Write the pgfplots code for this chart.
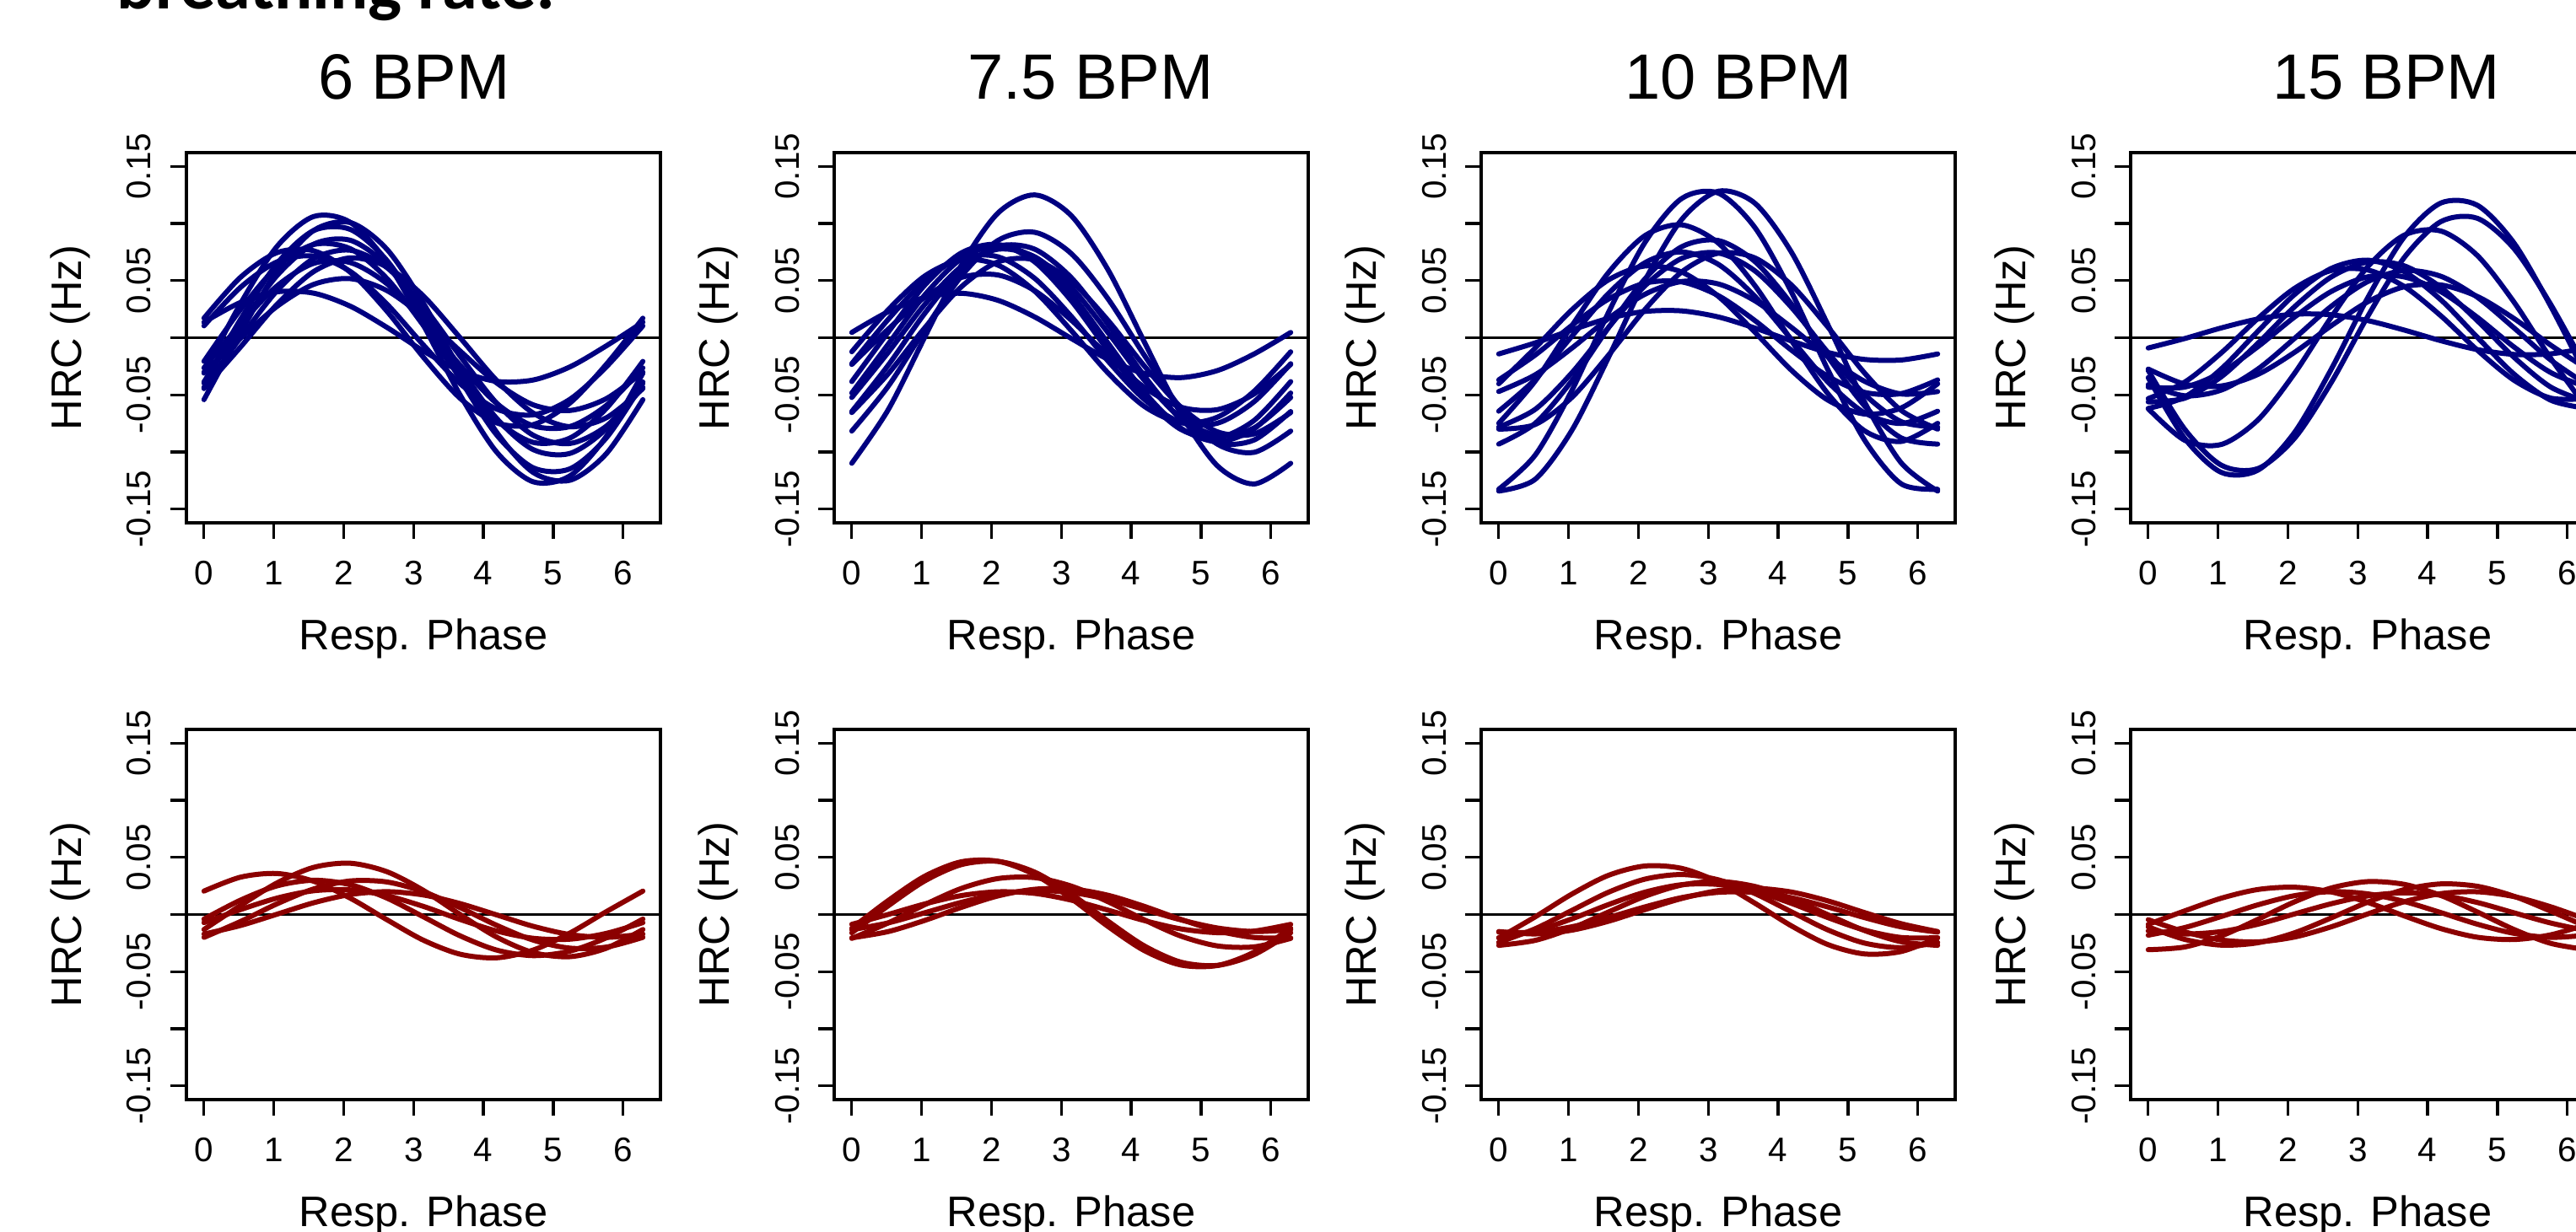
\documentclass[border=0pt]{standalone}
\usepackage{fontspec}
\setmainfont{Liberation Sans}
\newfontfamily\slidefont{Carlito}
\usepackage{pgfplots}
\usepackage{pgfplotstable}
\pgfplotsset{compat=1.18}

\definecolor{hrcblue}{RGB}{0,0,128}
\definecolor{hrcred}{RGB}{139,0,0}

% top row: one column per subject curve, x = respiratory phase
\pgfplotstableread{
x      c1      c2      c3      c4      c5      c6      c7      c8      c9      c10     c11     c12
0      -0.0310 -0.0542 -0.0398 -0.0207 -0.0434 -0.0264  0.0104 -0.0301  0.0136 -0.0445 -0.0387  0.0171
0.5236  0.0299  0.0045  0.0161  0.0247  0.0000  0.0119  0.0441 -0.0005  0.0309 -0.0081  0.0104  0.0529
1.0472  0.0800  0.0586  0.0650  0.0621  0.0412  0.0454  0.0664  0.0275  0.0402  0.0293  0.0545  0.0745
1.5708  0.1061  0.0939  0.0938  0.0816  0.0693  0.0651  0.0715  0.0467  0.0390  0.0579  0.0819  0.0761
2.0944  0.1010  0.1008  0.0948  0.0779  0.0766  0.0658  0.0580  0.0517  0.0276  0.0699  0.0853  0.0573
2.6180  0.0663  0.0775  0.0677  0.0519  0.0614  0.0473  0.0295  0.0413  0.0091  0.0621  0.0636  0.0233
3.1416  0.0110  0.0302  0.0198  0.0107  0.0274  0.0144 -0.0064  0.0181 -0.0116  0.0365  0.0227 -0.0171
3.6652 -0.0499 -0.0285 -0.0361 -0.0347 -0.0160 -0.0239 -0.0401 -0.0115 -0.0289  0.0001 -0.0264 -0.0529
4.1888 -0.1000 -0.0826 -0.0850 -0.0721 -0.0572 -0.0574 -0.0624 -0.0395 -0.0382 -0.0373 -0.0705 -0.0745
4.7124 -0.1261 -0.1179 -0.1138 -0.0916 -0.0853 -0.0771 -0.0675 -0.0587 -0.0370 -0.0659 -0.0979 -0.0761
5.2360 -0.1210 -0.1248 -0.1148 -0.0879 -0.0926 -0.0778 -0.0540 -0.0637 -0.0256 -0.0779 -0.1013 -0.0573
5.7596 -0.0863 -0.1015 -0.0877 -0.0619 -0.0774 -0.0593 -0.0255 -0.0533 -0.0071 -0.0701 -0.0796 -0.0233
6.2832 -0.0310 -0.0542 -0.0398 -0.0207 -0.0434 -0.0264  0.0104 -0.0301  0.0136 -0.0445 -0.0387  0.0171
}\topsix

\pgfplotstableread{
x      c1      c2      c3      c4      c5      c6      c7      c8      c9      c10     c11
0      -0.1099 -0.0817 -0.0384 -0.0523 -0.0646 -0.0227 -0.0655  0.0046 -0.0234 -0.0123 -0.0484
0.5236 -0.0628 -0.0423  0.0050 -0.0127 -0.0239  0.0162 -0.0314  0.0228  0.0076  0.0246 -0.0055
1.0472  0.0008  0.0074  0.0462  0.0293  0.0215  0.0500  0.0088  0.0353  0.0355  0.0541  0.0376
1.5708  0.0637  0.0541  0.0743  0.0623  0.0596  0.0701  0.0447  0.0389  0.0528  0.0684  0.0692
2.0944  0.1092  0.0852  0.0816  0.0775  0.0801  0.0708  0.0664  0.0327  0.0549  0.0635  0.0810
2.6180  0.1250  0.0923  0.0664  0.0709  0.0775  0.0520  0.0682  0.0182  0.0412  0.0408  0.0697
3.1416  0.1069  0.0737  0.0324  0.0443  0.0526  0.0187  0.0495 -0.0006  0.0154  0.0063  0.0384
3.6652  0.0598  0.0343 -0.0110  0.0047  0.0119 -0.0202  0.0154 -0.0188 -0.0156 -0.0306 -0.0045
4.1888 -0.0038 -0.0154 -0.0522 -0.0373 -0.0335 -0.0540 -0.0248 -0.0313 -0.0435 -0.0601 -0.0476
4.7124 -0.0667 -0.0621 -0.0803 -0.0703 -0.0716 -0.0741 -0.0607 -0.0349 -0.0608 -0.0744 -0.0792
5.2360 -0.1122 -0.0932 -0.0876 -0.0855 -0.0921 -0.0748 -0.0824 -0.0287 -0.0629 -0.0695 -0.0910
5.7596 -0.1280 -0.1003 -0.0724 -0.0789 -0.0895 -0.0560 -0.0842 -0.0142 -0.0492 -0.0468 -0.0797
6.2832 -0.1099 -0.0817 -0.0384 -0.0523 -0.0646 -0.0227 -0.0655  0.0046 -0.0234 -0.0123 -0.0484
}\topseven

\pgfplotstableread{
x      c1      c2      c3      c4      c5      c6      c7      c8      c9      c10     c11
0      -0.1326 -0.1342 -0.0749 -0.0643 -0.0782 -0.0800 -0.0471 -0.0369 -0.0142 -0.0403 -0.0931
0.5236 -0.1026 -0.1238 -0.0378 -0.0363 -0.0626 -0.0759 -0.0324 -0.0151 -0.0045 -0.0089 -0.0748
1.0472 -0.0461 -0.0810  0.0104  0.0013 -0.0307 -0.0522 -0.0091  0.0108  0.0068  0.0244 -0.0376
1.5708  0.0221 -0.0173  0.0570  0.0387  0.0089 -0.0153  0.0168  0.0338  0.0169  0.0506  0.0087
2.0944  0.0835  0.0502  0.0894  0.0657  0.0455  0.0248  0.0381  0.0478  0.0230  0.0628  0.0516
2.6180  0.1218  0.1034  0.0988  0.0751  0.0694  0.0575  0.0492  0.0489  0.0235  0.0575  0.0796
3.1416  0.1266  0.1282  0.0829  0.0643  0.0742  0.0740  0.0471  0.0369  0.0182  0.0363  0.0851
3.6652  0.0966  0.1178  0.0458  0.0363  0.0586  0.0699  0.0324  0.0151  0.0085  0.0049  0.0668
4.1888  0.0401  0.0750 -0.0024 -0.0013  0.0267  0.0462  0.0091 -0.0108 -0.0028 -0.0284  0.0296
4.7124 -0.0281  0.0113 -0.0490 -0.0387 -0.0129  0.0093 -0.0168 -0.0338 -0.0129 -0.0546 -0.0167
5.2360 -0.0895 -0.0562 -0.0814 -0.0657 -0.0495 -0.0308 -0.0381 -0.0478 -0.0190 -0.0668 -0.0596
5.7596 -0.1278 -0.1094 -0.0908 -0.0751 -0.0734 -0.0635 -0.0492 -0.0489 -0.0195 -0.0615 -0.0876
6.2832 -0.1326 -0.1342 -0.0749 -0.0643 -0.0782 -0.0800 -0.0471 -0.0369 -0.0142 -0.0403 -0.0931
}\topten

\pgfplotstableread{
x      c1      c2      c3      c4      c5      c6      c7      c8      c9      c10
0      -0.0349 -0.0286 -0.0621 -0.0619 -0.0562 -0.0411 -0.0433 -0.0274 -0.0090 -0.0533
0.5236 -0.0882 -0.0802 -0.0898 -0.0518 -0.0529 -0.0508 -0.0432 -0.0406 -0.0007 -0.0388
1.0472 -0.1179 -0.1116 -0.0934 -0.0272 -0.0341 -0.0458 -0.0303 -0.0422  0.0086 -0.0132
1.5708 -0.1159 -0.1145 -0.0719  0.0057 -0.0048 -0.0274 -0.0078 -0.0321  0.0164  0.0169
2.0944 -0.0829 -0.0880 -0.0312  0.0378  0.0271 -0.0006  0.0181 -0.0128  0.0206  0.0432
2.6180 -0.0278 -0.0394  0.0178  0.0606  0.0531  0.0274  0.0404  0.0104  0.0201  0.0588
3.1416  0.0349  0.0186  0.0621  0.0679  0.0662  0.0491  0.0533  0.0314  0.0150  0.0593
3.6652  0.0882  0.0702  0.0898  0.0578  0.0629  0.0588  0.0532  0.0446  0.0067  0.0448
4.1888  0.1179  0.1016  0.0934  0.0332  0.0441  0.0538  0.0403  0.0462 -0.0026  0.0192
4.7124  0.1159  0.1045  0.0719  0.0003  0.0148  0.0354  0.0178  0.0361 -0.0104 -0.0109
5.2360  0.0829  0.0780  0.0312 -0.0318 -0.0171  0.0086 -0.0081  0.0168 -0.0146 -0.0372
5.7596  0.0278  0.0294 -0.0178 -0.0546 -0.0431 -0.0194 -0.0304 -0.0064 -0.0141 -0.0528
6.2832 -0.0349 -0.0286 -0.0621 -0.0619 -0.0562 -0.0411 -0.0433 -0.0274 -0.0090 -0.0533
}\topfifteen

% bottom row
\pgfplotstableread{
x      c1      c2      c3      c4      c5      c6
0       0.0205 -0.0131 -0.0200 -0.0171 -0.0040 -0.0071
0.5236  0.0327  0.0079 -0.0061 -0.0096  0.0126  0.0043
1.0472  0.0359  0.0277  0.0094  0.0003  0.0251  0.0144
1.5708  0.0291  0.0413  0.0224  0.0103  0.0300  0.0208
2.0944  0.0143  0.0449  0.0294  0.0175  0.0261  0.0216
2.6180 -0.0045  0.0375  0.0285  0.0200  0.0144  0.0165
3.1416 -0.0225  0.0211  0.0200  0.0171 -0.0020  0.0071
3.6652 -0.0347  0.0001  0.0061  0.0096 -0.0186 -0.0043
4.1888 -0.0379 -0.0197 -0.0094 -0.0003 -0.0311 -0.0144
4.7124 -0.0311 -0.0333 -0.0224 -0.0103 -0.0360 -0.0208
5.2360 -0.0163 -0.0369 -0.0294 -0.0175 -0.0321 -0.0216
5.7596  0.0025 -0.0295 -0.0285 -0.0200 -0.0204 -0.0165
6.2832  0.0205 -0.0131 -0.0200 -0.0171 -0.0040 -0.0071
}\botsix

\pgfplotstableread{
x      c1      c2      c3      c4      c5      c6
0      -0.0120 -0.0160 -0.0209 -0.0133 -0.0086 -0.0204
0.5236  0.0123  0.0077 -0.0073 -0.0073  0.0001 -0.0149
1.0472  0.0336  0.0295  0.0087  0.0016  0.0093 -0.0051
1.5708  0.0462  0.0437  0.0229  0.0107  0.0166  0.0063
2.0944  0.0466  0.0465  0.0315  0.0178  0.0199  0.0163
2.6180  0.0349  0.0371  0.0323  0.0209  0.0185  0.0221
3.1416  0.0140  0.0180  0.0249  0.0193  0.0126  0.0224
3.6652 -0.0103 -0.0057  0.0113  0.0133  0.0039  0.0169
4.1888 -0.0316 -0.0275 -0.0047  0.0044 -0.0053  0.0071
4.7124 -0.0442 -0.0417 -0.0189 -0.0047 -0.0126 -0.0043
5.2360 -0.0446 -0.0445 -0.0275 -0.0118 -0.0159 -0.0143
5.7596 -0.0329 -0.0351 -0.0283 -0.0149 -0.0145 -0.0201
6.2832 -0.0120 -0.0160 -0.0209 -0.0133 -0.0086 -0.0204
}\botseven

\pgfplotstableread{
x      c1      c2      c3      c4      c5      c6
0      -0.0205 -0.0244 -0.0203 -0.0154 -0.0149 -0.0270
0.5236 -0.0020 -0.0124 -0.0143 -0.0154 -0.0170 -0.0226
1.0472  0.0179  0.0036 -0.0038 -0.0107 -0.0137 -0.0120
1.5708  0.0343  0.0195  0.0087 -0.0026 -0.0059  0.0022
2.0944  0.0425  0.0310  0.0196  0.0067  0.0043  0.0160
2.6180  0.0404  0.0350  0.0261  0.0148  0.0140  0.0258
3.1416  0.0285  0.0304  0.0263  0.0194  0.0209  0.0290
3.6652  0.0100  0.0184  0.0203  0.0194  0.0230  0.0246
4.1888 -0.0099  0.0024  0.0098  0.0147  0.0197  0.0140
4.7124 -0.0263 -0.0135 -0.0027  0.0066  0.0119 -0.0002
5.2360 -0.0345 -0.0250 -0.0136 -0.0027  0.0017 -0.0140
5.7596 -0.0324 -0.0290 -0.0201 -0.0108 -0.0080 -0.0238
6.2832 -0.0205 -0.0244 -0.0203 -0.0154 -0.0149 -0.0270
}\botten

\pgfplotstableread{
x      c1      c2      c3      c4      c5      c6
0      -0.0308 -0.0108 -0.0086 -0.0181 -0.0143 -0.0045
0.5236 -0.0284 -0.0218  0.0032 -0.0114 -0.0170 -0.0152
1.0472 -0.0187 -0.0268  0.0143 -0.0017 -0.0149 -0.0223
1.5708 -0.0042 -0.0247  0.0219  0.0085 -0.0085 -0.0239
2.0944  0.0111 -0.0160  0.0239  0.0165  0.0005 -0.0197
2.6180  0.0232 -0.0030  0.0198  0.0200  0.0094 -0.0108
3.1416  0.0288  0.0108  0.0106  0.0181  0.0163  0.0005
3.6652  0.0264  0.0218 -0.0012  0.0114  0.0190  0.0112
4.1888  0.0167  0.0268 -0.0123  0.0017  0.0169  0.0183
4.7124  0.0022  0.0247 -0.0199 -0.0085  0.0105  0.0199
5.2360 -0.0131  0.0160 -0.0219 -0.0165  0.0015  0.0157
5.7596 -0.0252  0.0030 -0.0178 -0.0200 -0.0074  0.0068
6.2832 -0.0308 -0.0108 -0.0086 -0.0181 -0.0143 -0.0045
}\botfifteen

\pgfplotsset{
  hrc/.style={
    scale only axis, width=56.2mm, height=43.9mm,
    xmin=-0.2513, xmax=6.5345, ymin=-0.162, ymax=0.162,
    axis line style={line width=0.33mm},
    tick pos=left, tick align=outside, major tick length=1.9mm,
    every tick/.style={black, line width=0.33mm},
    xtick={0,1,2,3,4,5,6}, xticklabels={0,1,2,3,4,5,6},
    ytick={-0.15,-0.1,-0.05,0,0.05,0.1,0.15},
    yticklabels={-0.15,,-0.05,,0.05,,0.15},
    tick label style={font=\fontsize{11.5}{12}\selectfont, inner sep=0pt},
    xticklabel style={anchor=base, yshift=-5.4mm},
    yticklabel style={xshift=-2.3mm, rotate=90, anchor=base},
    xlabel={Resp. Phase}, ylabel={HRC (Hz)},
    every axis x label/.style={at={(axis description cs:0.5,0)}, anchor=base,
      yshift=-15mm, font=\fontsize{14.4}{15}\selectfont},
    every axis y label/.style={at={(axis description cs:0,0.5)}, xshift=-13.75mm,
      rotate=90, anchor=center, font=\fontsize{14.4}{15}\selectfont},
  },
  blue curve/.style={hrcblue, smooth, line width=0.6mm, line cap=round, line join=round},
  red curve/.style={hrcred, smooth, line width=0.6mm, line cap=round, line join=round},
}

\begin{document}
\begin{tikzpicture}

\node[anchor=base west, inner sep=0pt, font=\slidefont\bfseries\fontsize{24}{26}\selectfont]
  at (13.8mm,144.9mm) {breathing rate:};

\node[anchor=base, inner sep=0pt, font=\fontsize{21.6}{24}\selectfont] at (49.1mm,134.2mm) {6 BPM};
\node[anchor=base, inner sep=0pt, font=\fontsize{21.6}{24}\selectfont] at (129.3mm,134.2mm) {7.5 BPM};
\node[anchor=base, inner sep=0pt, font=\fontsize{21.6}{24}\selectfont] at (206.1mm,134.2mm) {10 BPM};
\node[anchor=base, inner sep=0pt, font=\fontsize{21.6}{24}\selectfont] at (282.9mm,134.2mm) {15 BPM};

% top row
\begin{axis}[hrc, at={(22.1mm,84mm)}, anchor=south west]
\draw[line width=0.33mm] (-0.2513,0) -- (6.5345,0);
\pgfplotsinvokeforeach{1,...,12}{\addplot[blue curve] table[x=x,y=c#1]{\topsix};}
\end{axis}
\begin{axis}[hrc, at={(98.9mm,84mm)}, anchor=south west]
\draw[line width=0.33mm] (-0.2513,0) -- (6.5345,0);
\pgfplotsinvokeforeach{1,...,11}{\addplot[blue curve] table[x=x,y=c#1]{\topseven};}
\end{axis}
\begin{axis}[hrc, at={(175.6mm,84mm)}, anchor=south west]
\draw[line width=0.33mm] (-0.2513,0) -- (6.5345,0);
\pgfplotsinvokeforeach{1,...,11}{\addplot[blue curve] table[x=x,y=c#1]{\topten};}
\end{axis}
\begin{axis}[hrc, at={(252.6mm,84mm)}, anchor=south west]
\draw[line width=0.33mm] (-0.2513,0) -- (6.5345,0);
\pgfplotsinvokeforeach{1,...,10}{\addplot[blue curve] table[x=x,y=c#1]{\topfifteen};}
\end{axis}

% bottom row
\begin{axis}[hrc, at={(22.1mm,15.6mm)}, anchor=south west]
\draw[line width=0.33mm] (-0.2513,0) -- (6.5345,0);
\pgfplotsinvokeforeach{1,...,6}{\addplot[red curve] table[x=x,y=c#1]{\botsix};}
\end{axis}
\begin{axis}[hrc, at={(98.9mm,15.6mm)}, anchor=south west]
\draw[line width=0.33mm] (-0.2513,0) -- (6.5345,0);
\pgfplotsinvokeforeach{1,...,6}{\addplot[red curve] table[x=x,y=c#1]{\botseven};}
\end{axis}
\begin{axis}[hrc, at={(175.6mm,15.6mm)}, anchor=south west]
\draw[line width=0.33mm] (-0.2513,0) -- (6.5345,0);
\pgfplotsinvokeforeach{1,...,6}{\addplot[red curve] table[x=x,y=c#1]{\botten};}
\end{axis}
\begin{axis}[hrc, at={(252.6mm,15.6mm)}, anchor=south west]
\draw[line width=0.33mm] (-0.2513,0) -- (6.5345,0);
\pgfplotsinvokeforeach{1,...,6}{\addplot[red curve] table[x=x,y=c#1]{\botfifteen};}
\end{axis}

\pgfresetboundingbox
\path[use as bounding box] (0,0) rectangle (305.4mm,146mm);
\end{tikzpicture}
\end{document}
